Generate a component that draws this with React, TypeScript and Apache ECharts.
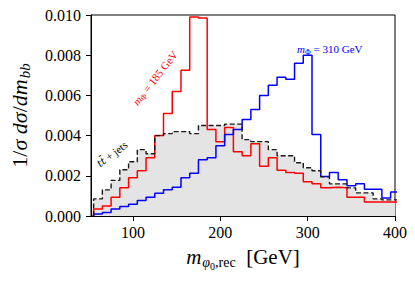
import React, { useEffect, useRef } from "react";
import * as echarts from "echarts";

// Left edges of the 10 GeV bins
const binLeftEdges = [55, 65, 75, 85, 95, 105, 115, 125, 135, 145, 155, 165, 175, 185, 195, 205, 215, 225, 235, 245, 255, 265, 275, 285, 295, 305, 315, 325, 335, 345, 355, 365, 375, 385, 395];
const binWidth = 10;

const ttbarJets = [0.00085, 0.0013, 0.00177, 0.0023, 0.0027, 0.0033, 0.0031, 0.004, 0.0041, 0.0042, 0.0042, 0.0041, 0.0045, 0.0045, 0.0045, 0.00457, 0.00457, 0.0038, 0.0037, 0.0037, 0.0033, 0.003, 0.003, 0.00265, 0.0024, 0.00225, 0.00195, 0.0016, 0.0016, 0.0014, 0.00115, 0.00115, 0.00085, 0.0008, 0.0008];
const mPhi185 = [0.00035, 0.0005, 0.00093, 0.0014, 0.0019, 0.00225, 0.0029, 0.004, 0.0051, 0.0062, 0.00725, 0.0099, 0.00985, 0.0043, 0.0037, 0.0044, 0.0032, 0.003, 0.0036, 0.00247, 0.0029, 0.00227, 0.00217, 0.00213, 0.0017, 0.0016, 0.0014, 0.00143, 0.0014, 0.00093, 0.00093, 0.0007, 0.0007, 0.0007, 0.0007];
const mPhi310 = [0.0001, 0.00017, 0.00035, 0.00047, 0.00058, 0.00077, 0.00093, 0.00113, 0.0013, 0.00143, 0.0019, 0.00213, 0.0028, 0.0029, 0.0035, 0.00405, 0.0043, 0.0048, 0.0053, 0.006, 0.0065, 0.0069, 0.0068, 0.0076, 0.008, 0.00405, 0.00197, 0.00217, 0.0018, 0.0015, 0.0016, 0.00133, 0.00133, 0.0009, 0.0012];

const xTicks = [100, 200, 300, 400];

const SERIF = "'Liberation Serif', 'DejaVu Serif', serif";

function stepData(vals: number[]) {
  const pts: number[][] = [[binLeftEdges[0], 0]];
  vals.forEach((v, i) => pts.push([binLeftEdges[i], v]));
  pts.push([binLeftEdges[binLeftEdges.length - 1] + binWidth, vals[vals.length - 1]]);
  return pts;
}

export default function App() {
  const ref = useRef<HTMLDivElement>(null);
  useEffect(() => {
    if (!ref.current) return;
    const chart = echarts.init(ref.current, undefined, { renderer: "svg" });
    const option: any = {
      animation: false,
      backgroundColor: "#fff",
      grid: { left: 87, right: 20, top: 15, bottom: 65, show: true, borderColor: "#000", borderWidth: 1 },
      xAxis: {
        type: "value",
        min: 52,
        max: 400,
        axisLine: { show: true, lineStyle: { color: "#000", width: 1 } },
        axisTick: { show: true, inside: false, length: 5, customValues: xTicks, lineStyle: { color: "#000" } },
        axisLabel: { customValues: xTicks, color: "#000", fontFamily: SERIF, fontSize: 16, margin: 8 },
        splitLine: { show: false },
        name: "{i|m}{s|φ}{ss|0}{sr|,rec}{n|  [GeV]}",
        nameLocation: "middle",
        nameGap: 27,
        nameTextStyle: {
          color: "#000",
          rich: {
            i: { fontFamily: SERIF, fontStyle: "italic", fontSize: 21, color: "#000" },
            s: { fontFamily: SERIF, fontStyle: "italic", fontSize: 14, color: "#000", padding: [11, 0, 0, 1] },
            ss: { fontFamily: SERIF, fontSize: 10, color: "#000", padding: [18, 0, 0, 0] },
            sr: { fontFamily: SERIF, fontSize: 14, color: "#000", padding: [11, 0, 0, 0] },
            n: { fontFamily: SERIF, fontSize: 21, color: "#000" },
          },
        },
      },
      yAxis: {
        type: "value",
        min: 0,
        max: 0.01,
        interval: 0.002,
        axisLine: { show: true, lineStyle: { color: "#000", width: 1 } },
        axisTick: { show: true, inside: false, length: 5, lineStyle: { color: "#000" } },
        axisLabel: {
          color: "#000",
          fontFamily: SERIF,
          fontSize: 16,
          margin: 10,
          formatter: (v: number) => v.toFixed(3),
        },
        splitLine: { show: false },
        name: "{n|1/}{i|σ}{n| }{i|dσ}{n|/}{i|dm}{s|bb}",
        nameLocation: "middle",
        nameRotate: 90,
        nameGap: 59,
        nameTextStyle: {
          color: "#000",
          rich: {
            n: { fontFamily: SERIF, fontSize: 22, color: "#000" },
            i: { fontFamily: SERIF, fontStyle: "italic", fontSize: 22, color: "#000" },
            s: { fontFamily: SERIF, fontStyle: "italic", fontSize: 15, color: "#000", padding: [11, 0, 0, 1] },
          },
        },
      },
      series: [
        {
          name: "tt+jets fill",
          type: "line",
          step: "end",
          data: stepData(ttbarJets),
          symbol: "none",
          lineStyle: { width: 0, opacity: 0 },
          areaStyle: { color: "#e4e4e4", opacity: 1 },
          z: 1,
        },
        {
          name: "m185",
          type: "line",
          step: "end",
          data: stepData(mPhi185),
          symbol: "none",
          lineStyle: { color: "#ff0000", width: 1.5 },
          z: 3,
        },
        {
          name: "m310",
          type: "line",
          step: "end",
          data: stepData(mPhi310),
          symbol: "none",
          lineStyle: { color: "#0000ff", width: 1.5 },
          z: 3,
        },
        {
          name: "tt+jets",
          type: "line",
          step: "end",
          data: stepData(ttbarJets),
          symbol: "none",
          lineStyle: { color: "#1a1a1a", width: 1.4, type: [5, 2.5] },
          z: 4,
        },
      ],
      graphic: [
        {
          type: "text",
          x: 155,
          y: 78,
          rotation: (52 * Math.PI) / 180,
          z: 10,
          style: {
            text: "{i|m}{s|Φ}{n| = 185 GeV}",
            align: "center",
            verticalAlign: "middle",
            rich: {
              i: { fontFamily: SERIF, fontStyle: "italic", fontSize: 11, fill: "#ff0000" },
              s: { fontFamily: SERIF, fontSize: 8, fill: "#ff0000", padding: [6, 0, 0, 0] },
              n: { fontFamily: SERIF, fontSize: 11, fill: "#ff0000" },
            },
          },
        },
        {
          type: "text",
          x: 297,
          y: 49,
          z: 10,
          style: {
            text: "{i|m}{s|Φ}{n| = 310 GeV}",
            align: "left",
            verticalAlign: "middle",
            rich: {
              i: { fontFamily: SERIF, fontStyle: "italic", fontSize: 11, fill: "#0000ff" },
              s: { fontFamily: SERIF, fontSize: 8, fill: "#0000ff", padding: [6, 0, 0, 0] },
              n: { fontFamily: SERIF, fontSize: 11, fill: "#0000ff" },
            },
          },
        },
        {
          type: "text",
          x: 112,
          y: 154,
          rotation: (38 * Math.PI) / 180,
          z: 10,
          style: {
            text: "{i|tt\u0304}{n| + jets}",
            align: "center",
            verticalAlign: "middle",
            rich: {
              i: { fontFamily: "'DejaVu Serif', serif", fontStyle: "italic", fontSize: 10, fill: "#000" },
              n: { fontFamily: SERIF, fontSize: 11, fill: "#000" },
            },
          },
        },
      ],
    };
    chart.setOption(option);
    return () => chart.dispose();
  }, []);
  return <div ref={ref} style={{ width: 415, height: 281, position: "absolute", left: 0, top: 0 }} />;
}
